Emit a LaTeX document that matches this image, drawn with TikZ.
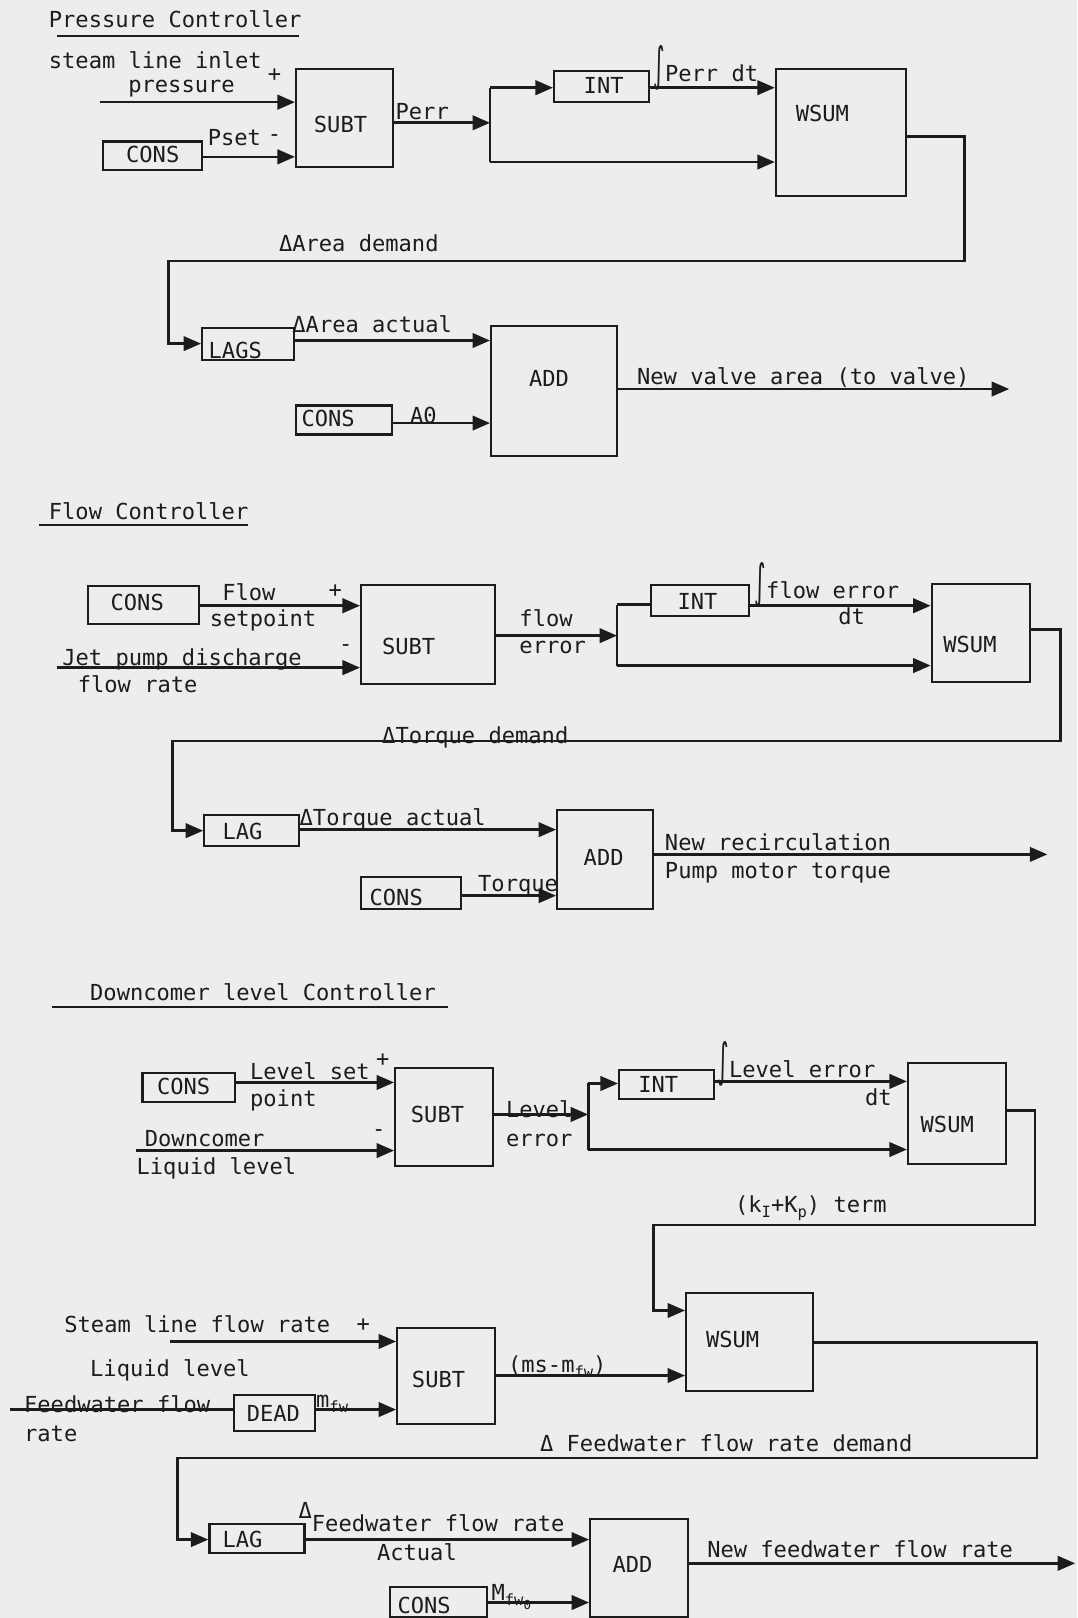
\documentclass[tikz,border=0pt]{standalone}
\usepackage{fontspec}
\newfontfamily\tw{DejaVu Sans Mono}
\newfontfamily\dv{DejaVu Sans}
\usetikzlibrary{arrows.meta,fit}
\definecolor{ink}{RGB}{28,28,28}
\definecolor{paper}{RGB}{237,237,235}
\newcommand{\mysub}[1]{\raisebox{-0.45ex}{\fontsize{7.5}{8}\selectfont #1}}
\newcommand{\myint}{{\dv\raisebox{0.1ex}{\scalebox{1}[2.1]{∫}}}}
\newcommand{\blk}[8]{%
  \coordinate (#1-a) at (#2,#3); \coordinate (#1-b) at (#4,#5);
  \node[box, fit=(#1-a)(#1-b)] (#1) {};
  \node[txt] (#1-t) at (#6,#7) {#8};}
\begin{document}
\begin{tikzpicture}[x=0.5pt,y=-0.5pt,
  box/.style={draw=ink, line width=1.1pt, inner sep=0pt},
  txt/.style={text=ink, font=\tw\fontsize{10.7}{12}\selectfont, inner sep=0pt},
  lbl/.style={txt, anchor=base west},
  wire/.style={draw=ink, line width=1.3pt},
  arr/.style={wire, -{Triangle[length=8.5pt,width=7pt]}},
  uline/.style={draw=ink, line width=1.1pt}]
\fill[paper] (0,0) rectangle (1044,1568);
\useasboundingbox (0,0) rectangle (1044,1568);

% ---------------- Pressure Controller ----------------
\node[lbl] (t1) at (47,27) {Pressure Controller};
\coordinate (u1a) at (55,35); \coordinate (u1b) at (290,35);
\draw[uline] (u1a) -- (u1b);
\node[lbl] (l1a) at (47,66) {steam line inlet};
\node[lbl] (l1b) at (124,90) {pressure};
\node[txt] (pl1) at (266,73) {+};
\node[lbl] (l1c) at (201,141) {Pset};
\node[txt] (mi1) at (266,134) {-};
\blk{subt1}{287}{67}{381}{162}{330}{121}{SUBT}
\blk{cons1}{100}{137}{196}{165}{148}{150}{CONS}
\blk{int1}{537}{69}{629}{99}{585}{83}{INT}
\blk{wsum1}{752}{67}{878}{190}{797}{110}{WSUM}
\node[lbl] (l1d) at (383,116) {Perr};
\node[lbl] (l1e) at (633,79) {\myint Perr dt};
\node[lbl] (l1f) at (270,244) {ΔArea demand};
\blk{lags}{196}{318}{285}{349}{228}{340}{LAGS}
\blk{add1}{476}{316}{598}{442}{532}{367}{ADD}
\blk{cons2}{287}{393}{380}{421}{318}{406}{CONS}
\node[lbl] (l1g) at (283,322) {ΔArea actual};
\node[lbl] (l1h) at (397,410) {A0};
\node[lbl] (l1i) at (617,373) {New valve area (to valve)};

\coordinate (pin) at (97,99);
\draw[arr] (pin) -- (subt1.west |- pin);
\draw[arr] (cons1.east |- 0,152) -- (subt1.west |- 0,152);
\coordinate (sp1) at (475,119);
\coordinate (sp1a) at (475,85);
\coordinate (sp1b) at (475,157);
\draw[arr] (subt1.east |- sp1) -- (sp1);
\draw[wire] (sp1a) -- (sp1b);
\draw[arr] (sp1a) -- (int1.west |- sp1a);
\draw[arr] (int1.east |- sp1a) -- (wsum1.west |- sp1a);
\draw[arr] (sp1b) -- (wsum1.west |- sp1b);
\coordinate (c1a) at (935,132); \coordinate (c1b) at (935,253); \coordinate (c1c) at (163,253);
\draw[arr] (wsum1.east |- c1a) -- (c1a) -- (c1b) -- (c1c) -- (c1c |- 0,333) -- (lags.west |- 0,333);
\draw[arr] (lags.east |- 0,330) -- (add1.west |- 0,330);
\draw[arr] (cons2.east |- 0,410) -- (add1.west |- 0,410);
\coordinate (out1) at (978,377);
\draw[arr] (add1.east |- out1) -- (out1);

% ---------------- Flow Controller ----------------
\node[lbl] (t2) at (47,503) {Flow Controller};
\coordinate (u2a) at (38,509); \coordinate (u2b) at (240,509);
\draw[uline] (u2a) -- (u2b);
\blk{cons3}{85}{568}{193}{605}{133}{584}{CONS}
\node[lbl] (l2a) at (215,582) {Flow};
\node[lbl] (l2b) at (203,607) {setpoint};
\node[txt] (pl2) at (325,573) {+};
\node[lbl] (l2c) at (60,645) {Jet pump discharge};
\node[lbl] (l2d) at (75,671) {flow rate};
\node[txt] (mi2) at (335,628) {-};
\blk{subt2}{350}{567}{480}{663}{396}{626}{SUBT}
\node[lbl] (l2e) at (503,607) {flow};
\node[lbl] (l2f) at (503,633) {error};
\blk{int2}{631}{567}{726}{597}{676}{583}{INT}
\node[lbl] (l2g) at (731,580) {\myint flow error};
\node[lbl] (l2h) at (812,605) {dt};
\blk{wsum2}{903}{566}{998}{661}{940}{625}{WSUM}
\node[lbl] (l2i) at (370,721) {ΔTorque demand};
\blk{lag1}{198}{790}{290}{820}{235}{806}{LAG}
\node[lbl] (l2j) at (290,800) {ΔTorque actual};
\blk{add2}{540}{785}{633}{881}{585}{831}{ADD}
\blk{cons4}{350}{850}{447}{881}{384}{870}{CONS}
\node[lbl] (l2k) at (463,864) {Torque};
\node[lbl] (l2l) at (644,824) {New recirculation};
\node[lbl] (l2m) at (644,851) {Pump motor torque};

\draw[arr] (cons3.east |- 0,587) -- (subt2.west |- 0,587);
\coordinate (jin) at (55,647);
\draw[arr] (jin) -- (subt2.west |- jin);
\coordinate (sp2) at (598,616);
\coordinate (sp2a) at (598,586);
\coordinate (sp2b) at (598,645);
\draw[arr] (subt2.east |- sp2) -- (sp2);
\draw[wire] (sp2a) -- (sp2b);
\draw[wire] (sp2a) -- (int2.west |- sp2a);
\draw[arr] (int2.east |- 0,587) -- (wsum2.west |- 0,587);
\draw[arr] (sp2b) -- (wsum2.west |- sp2b);
\coordinate (c2a) at (1028,610); \coordinate (c2b) at (1028,718); \coordinate (c2c) at (167,718);
\draw[arr] (wsum2.east |- c2a) -- (c2a) -- (c2b) -- (c2c) -- (c2c |- 0,805) -- (lag1.west |- 0,805);
\draw[arr] (lag1.east |- 0,804) -- (add2.west |- 0,804);
\draw[arr] (cons4.east |- 0,868) -- (add2.west |- 0,868);
\coordinate (out2) at (1015,828);
\draw[arr] (add2.east |- out2) -- (out2);

% ---------------- Downcomer level Controller ----------------
\node[lbl] (t3) at (87,970) {Downcomer level Controller};
\coordinate (u3a) at (50,976); \coordinate (u3b) at (434,976);
\draw[uline] (u3a) -- (u3b);
\blk{cons5}{138}{1040}{228}{1068}{178}{1053}{CONS}
\node[lbl] (l3a) at (242,1046) {Level set};
\node[lbl] (l3b) at (242,1072) {point};
\node[txt] (pl3) at (371,1027) {+};
\node[lbl] (l3c) at (140,1111) {Downcomer};
\node[lbl] (l3d) at (132,1138) {Liquid level};
\node[txt] (mi3) at (367,1098) {-};
\blk{subt3}{383}{1035}{478}{1130}{424}{1080}{SUBT}
\node[lbl] (l3e) at (490,1083) {Level};
\node[lbl] (l3f) at (490,1111) {error};
\blk{int3}{600}{1037}{692}{1065}{638}{1051}{INT}
\node[lbl] (l3g) at (695,1044) {\myint Level error};
\node[lbl] (l3h) at (838,1071) {dt};
\blk{wsum3}{880}{1030}{975}{1128}{918}{1090}{WSUM}
\node[lbl] (l3i) at (712,1175) {(k\mysub{I}+K\mysub{p}) term};
\blk{wsum4}{665}{1253}{788}{1348}{710}{1298}{WSUM}
\node[lbl] (l3j) at (62,1291) {Steam line flow rate};
\node[txt] (pl4) at (352,1284) {+};
\node[lbl] (l3k) at (87,1334) {Liquid level};
\blk{subt4}{385}{1287}{480}{1380}{425}{1337}{SUBT}
\node[lbl] (l3l) at (23,1369) {Feedwater flow};
\node[lbl] (l3m) at (23,1397) {rate};
\blk{dead}{227}{1352}{305}{1387}{265}{1370}{DEAD}
\node[lbl] (l3n) at (306,1364) {m\mysub{fw}};
\node[lbl] (l3o) at (492,1330) {(ms-m\mysub{fw})};
\node[lbl] (l3p) at (523,1407) {Δ Feedwater flow rate demand};
\blk{lag2}{203}{1477}{295}{1505}{235}{1492}{LAG}
\node[lbl] (l3q) at (289,1484) {\raisebox{1.1ex}{Δ}Feedwater flow rate};
\node[lbl] (l3r) at (365,1512) {Actual};
\blk{add3}{572}{1472}{667}{1567}{613}{1516}{ADD}
\blk{cons6}{378}{1538}{472}{1567}{411}{1556}{CONS}
\node[lbl] (l3s) at (476,1551) {M\mysub{fw\raisebox{-0.4ex}{\fontsize{6}{6}\selectfont 0}}};
\node[lbl] (l3t) at (685,1509) {New feedwater flow rate};

\draw[arr] (cons5.east |- 0,1049) -- (subt3.west |- 0,1049);
\coordinate (din) at (132,1115);
\draw[arr] (din) -- (subt3.west |- din);
\coordinate (sp3) at (570,1080);
\coordinate (sp3a) at (570,1050);
\coordinate (sp3b) at (570,1114);
\draw[arr] (subt3.east |- sp3) -- (sp3);
\draw[wire] (sp3a) -- (sp3b);
\draw[arr] (sp3a) -- (int3.west |- sp3a);
\draw[arr] (int3.east |- 0,1048) -- (wsum3.west |- 0,1048);
\draw[arr] (sp3b) -- (wsum3.west |- sp3b);
\coordinate (c3a) at (1003,1076); \coordinate (c3b) at (1003,1187); \coordinate (c3c) at (633,1187);
\draw[arr] (wsum3.east |- c3a) -- (c3a) -- (c3b) -- (c3c) -- (c3c |- 0,1270) -- (wsum4.west |- 0,1270);
\coordinate (sin) at (165,1300);
\draw[arr] (sin) -- (subt4.west |- sin);
\coordinate (fin) at (10,1366);
\draw[wire] (fin) -- (dead.west |- fin);
\draw[arr] (dead.east |- fin) -- (subt4.west |- fin);
\draw[arr] (subt4.east |- 0,1333) -- (wsum4.west |- 0,1333);
\coordinate (c4a) at (1005,1301); \coordinate (c4b) at (1005,1413); \coordinate (c4c) at (172,1413);
\draw[arr] (wsum4.east |- c4a) -- (c4a) -- (c4b) -- (c4c) -- (c4c |- 0,1492) -- (lag2.west |- 0,1492);
\draw[arr] (lag2.east |- 0,1492) -- (add3.west |- 0,1492);
\draw[arr] (cons6.east |- 0,1553) -- (add3.west |- 0,1553);
\coordinate (out3) at (1042,1515);
\draw[arr] (add3.east |- out3) -- (out3);
\end{tikzpicture}
\end{document}
